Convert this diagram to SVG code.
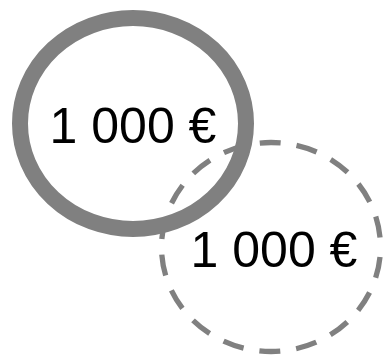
<svg xmlns="http://www.w3.org/2000/svg" width="385" height="355" viewBox="0 0 385 355">
<style>
.solid{fill:none;stroke:#808080;stroke-width:16}
.dashed{fill:none;stroke:#808080;stroke-width:5.3;stroke-dasharray:21.2 15.9;stroke-dashoffset:27}
.lbl{font-family:"Liberation Sans",Arial,sans-serif;font-size:50px;fill:#000;text-anchor:middle}
</style>
<rect width="385" height="355" fill="#fff"/>
<g id="node-dashed">
<ellipse class="dashed" cx="271" cy="247" rx="109.5" ry="104.5"/>
<text class="lbl" x="274" y="266.5">1 000 €</text>
</g>
<g id="node-solid">
<ellipse class="solid" cx="133" cy="123.5" rx="113" ry="105.5"/>
<text class="lbl" x="133" y="143.2">1 000 €</text>
</g>
<g id="connectors"></g>
</svg>
